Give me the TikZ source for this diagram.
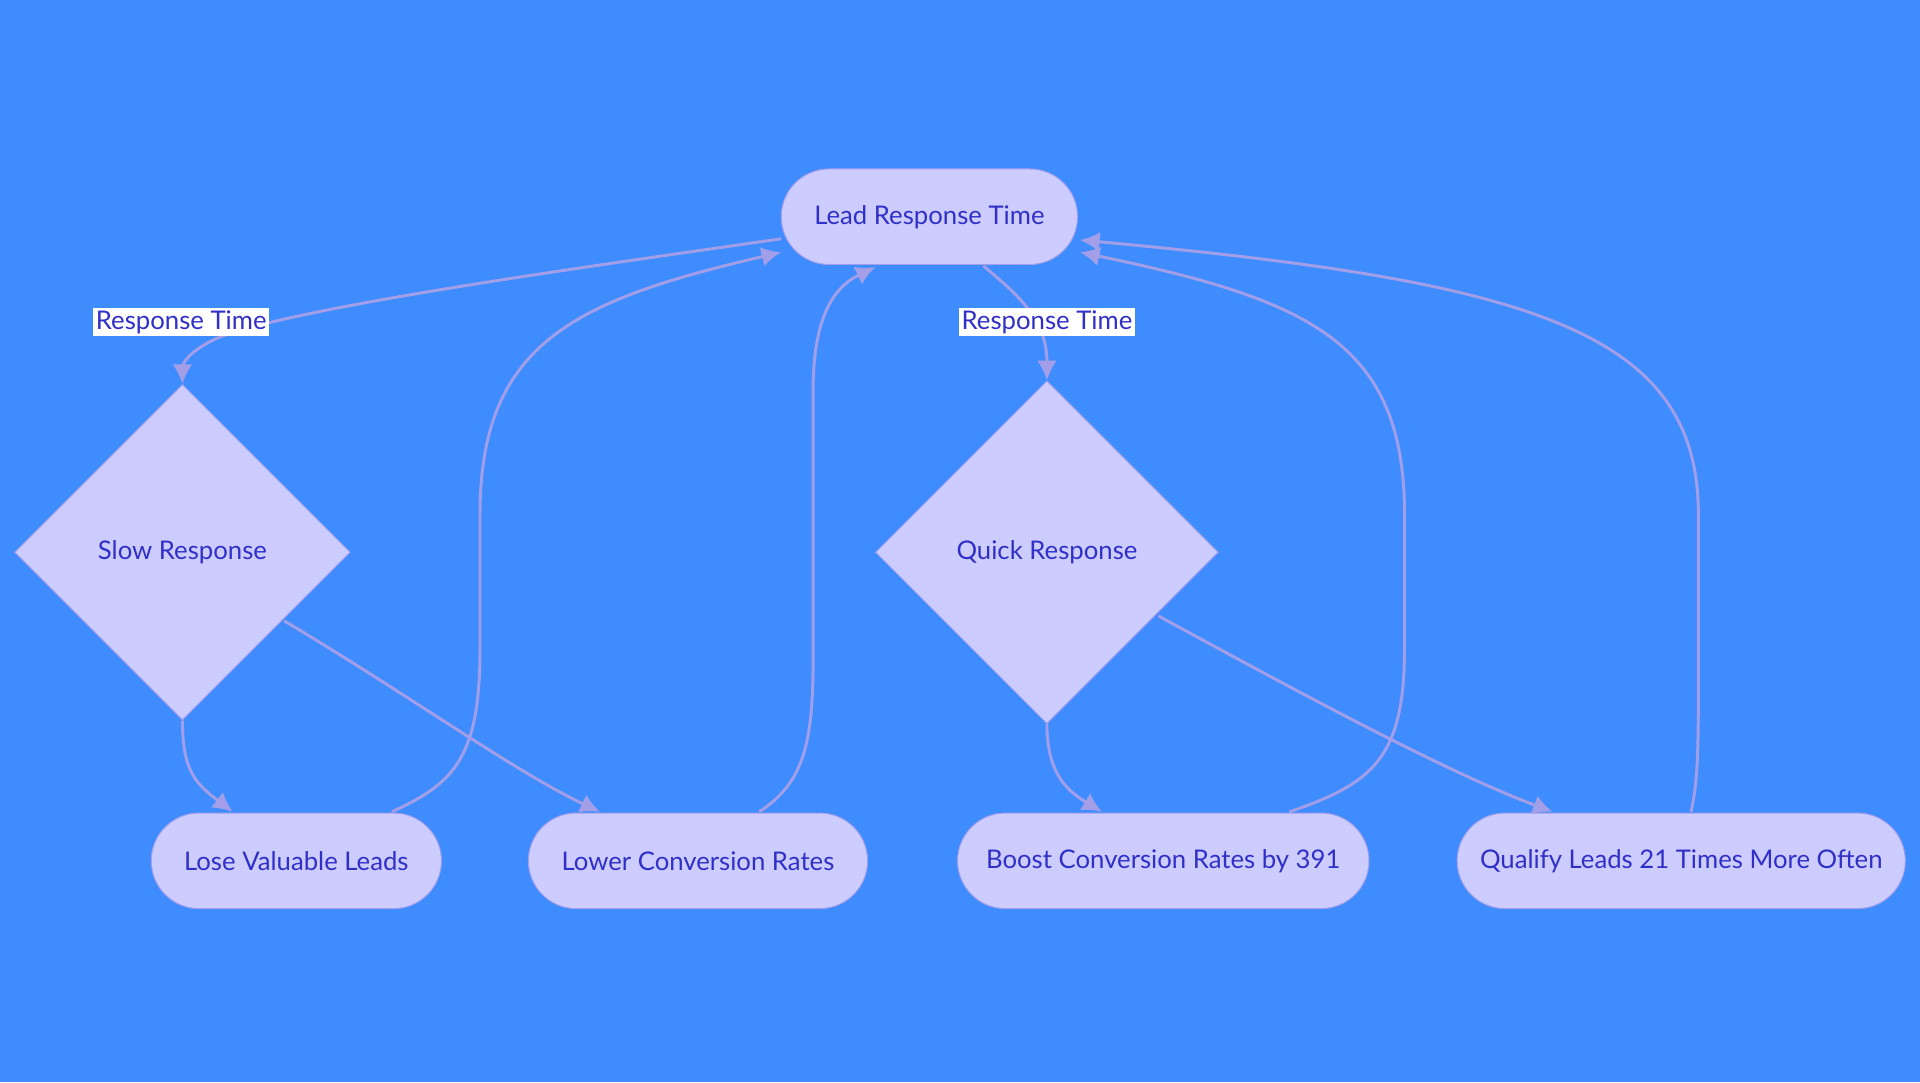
\documentclass[tikz,border=0pt]{standalone}
\usepackage{fontspec}
\setmainfont{Lato}
\usetikzlibrary{shapes.geometric,arrows.meta}
\definecolor{bg}{HTML}{3F8CFF}
\definecolor{nfill}{HTML}{CCCCFF}
\definecolor{nline}{HTML}{A29EE8}
\definecolor{ntext}{HTML}{3030C8}
\begin{document}
\begin{tikzpicture}[x=0.5pt,y=-0.5pt,
  pill/.style={draw=nline,fill=nfill,rounded corners=19.5pt,minimum height=39pt,text=ntext,font=\fontsize{10.5}{12}\selectfont,inner sep=0pt},
  dia/.style={draw=nline,fill=nfill,diamond,text=ntext,font=\fontsize{10.5}{12}\selectfont,inner sep=0pt},
  edge/.style={draw=nline,line width=1.2pt,-{Latex[length=8pt,width=8pt]}},
  lab/.style={fill=white,text=ntext,font=\fontsize{10.5}{12}\selectfont,inner sep=1pt}]
\fill[bg] (0,0) rectangle (1568,884);
\useasboundingbox (0,0) rectangle (1568,884);
\node[pill,minimum width=121pt] (lead) at (759,177) {Lead Response Time};
\node[dia,minimum width=137pt,minimum height=137pt] (slow) at (149,451) {Slow Response};
\node[dia,minimum width=140pt,minimum height=140pt] (quick) at (855,451) {Quick Response};
\node[pill,minimum width=118.5pt] (lose) at (242,703) {Lose Valuable Leads};
\node[pill,minimum width=138.5pt] (lower) at (570,703) {Lower Conversion Rates};
\node[pill,minimum width=168pt] (boost) at (950,703) {Boost Conversion Rates by 391};
\node[pill,minimum width=183pt] (qual) at (1373,703) {Qualify Leads 21 Times More Often};
\coordinate (a1) at (638,195);
\coordinate (a2) at (803,217);
\path[edge] (a1) .. controls (450,222) and (250,250) .. (180,275) .. controls (150,288) and (149,300) .. (slow.north);
\path[edge] (a2) .. controls (830,240) and (855,260) .. (quick.north);
\node[lab] (l1) at (148,263) {Response Time};
\node[lab] (l2) at (855,263) {Response Time};
\path[edge] (slow.south) .. controls (149,630) and (160,640) .. (190,663);
\path[edge] (232,507) .. controls (330,565) and (420,630) .. (490,663);
\path[edge] (quick.south) .. controls (855,630) and (870,645) .. (900,663);
\path[edge] (946,503) .. controls (1060,565) and (1180,630) .. (1268,663);
\path[edge] (320,663) .. controls (370,640) and (392,620) .. (392,530) -- (392,420) .. controls (392,280) and (470,245) .. (638,206);
\path[edge] (620,663) .. controls (655,640) and (664,610) .. (664,540) -- (664,320) .. controls (664,260) and (680,235) .. (715,218);
\path[edge] (1053,663) .. controls (1120,640) and (1147,620) .. (1147,530) -- (1147,420) .. controls (1147,280) and (1070,245) .. (882,206);
\path[edge] (1381,663) .. controls (1386,640) and (1387,620) .. (1387,560) -- (1387,420) .. controls (1387,270) and (1250,230) .. (882,196);
\end{tikzpicture}
\end{document}
